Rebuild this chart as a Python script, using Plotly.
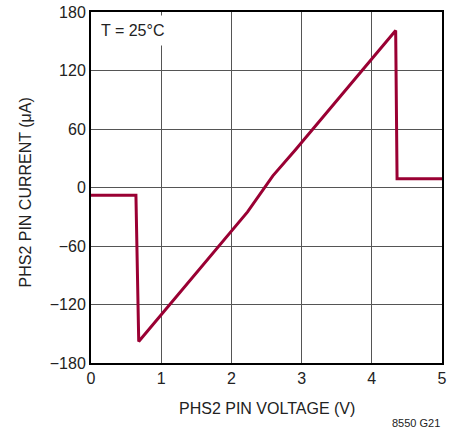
import plotly.graph_objects as go

voltage = [0.0, 0.64, 0.68, 2.23, 2.59, 2.91, 4.34, 4.36, 5.0]
current = [-8, -8, -158, -25, 12, 38.5, 161, 9, 9]

x_ticks = [0, 1, 2, 3, 4, 5]
y_ticks = [-180, -120, -60, 0, 60, 120, 180]
y_tick_text = ["\u2212180", "\u2212120", "\u221260", "0", "60", "120", "180"]

FONT = "Liberation Sans, Arial, sans-serif"

fig = go.Figure()
fig.add_trace(go.Scatter(x=voltage, y=current, mode="lines",
                         line=dict(color="#9a0033", width=3), hoverinfo="skip"))

fig.update_layout(
    width=458, height=435,
    margin=dict(l=91, r=16, t=12, b=72, autoexpand=False),
    paper_bgcolor="white", plot_bgcolor="white",
    showlegend=False,
    font=dict(family=FONT, size=16, color="#222"),
    xaxis=dict(range=[0, 5], tickvals=x_ticks, ticks="", showgrid=True,
               gridcolor="#555", gridwidth=1, zeroline=False, automargin=False,
               showline=True, linecolor="black", linewidth=2, mirror=True,
               ticklabeloverflow="allow", tickfont=dict(size=16)),
    yaxis=dict(range=[-180, 180], tickvals=y_ticks, ticktext=y_tick_text, ticks="",
               showgrid=True, gridcolor="#555", gridwidth=1, zeroline=False, automargin=False,
               showline=True, linecolor="black", linewidth=2, mirror=True,
               ticklabeloverflow="allow", tickfont=dict(size=16)),
)

# axis titles
fig.add_annotation(x=0.5, y=0, xref="paper", yref="paper", xanchor="center", yanchor="middle",
                   text="PHS2 PIN VOLTAGE (V)", showarrow=False, font=dict(size=16), yshift=-45)
fig.add_annotation(x=0, y=0.5, xref="paper", yref="paper", xanchor="center", yanchor="middle",
                   text="PHS2 PIN CURRENT (\u03bcA)", showarrow=False, font=dict(size=16),
                   textangle=-90, xshift=-66, yshift=-5)

fig.add_annotation(x=0, y=1, xref="paper", yref="paper", xanchor="left", yanchor="top",
                   text="T = 25\u00b0C", showarrow=False, bgcolor="white",
                   font=dict(size=16), borderpad=6, xshift=3, yshift=-3)
fig.add_annotation(x=1, y=0, xref="paper", yref="paper", xanchor="right", yanchor="middle",
                   text="8550 G21", showarrow=False, font=dict(size=11), yshift=-60, xshift=0)

fig.write_html("out.html", config={"displayModeBar": False},
               post_script="document.body.style.margin='0px';")
